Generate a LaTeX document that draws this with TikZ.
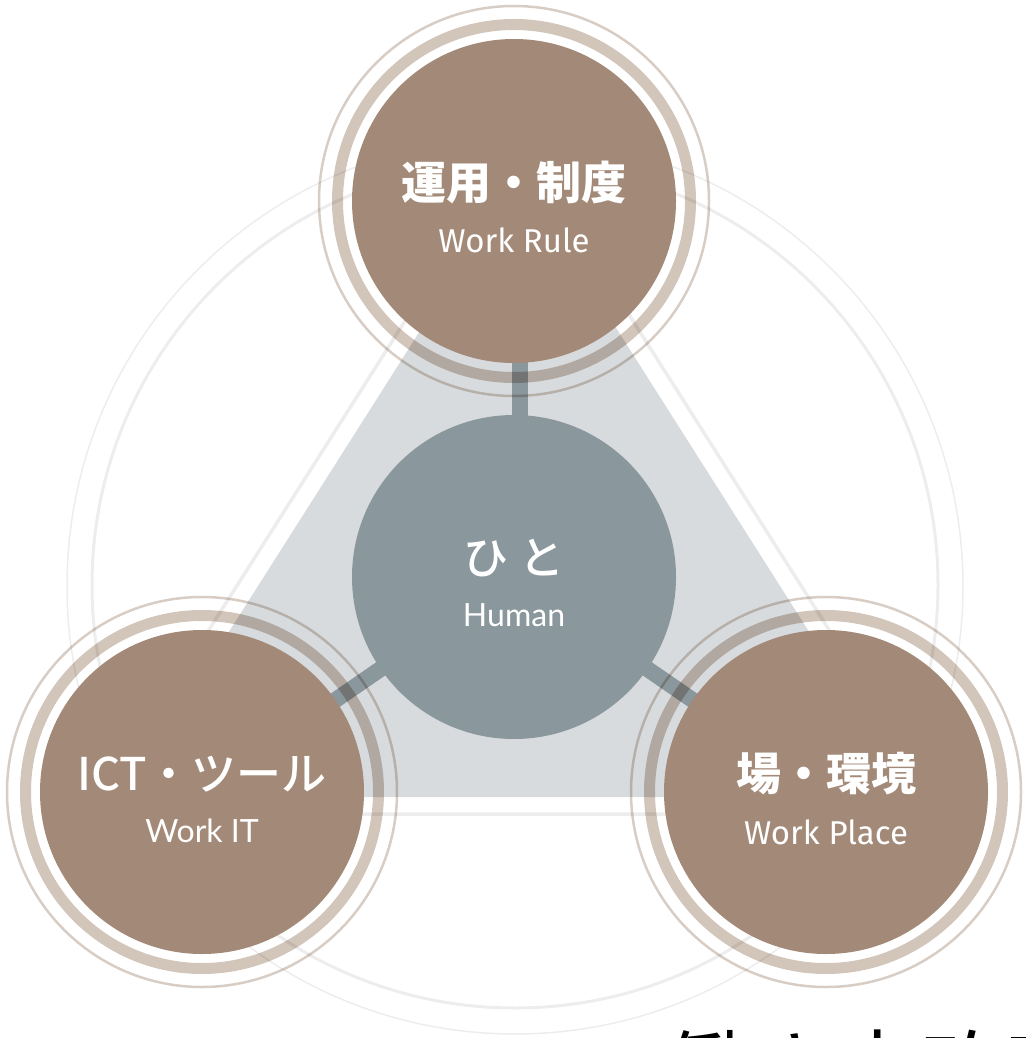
\documentclass[tikz,border=0pt]{standalone}
\usepackage{fontspec}
\newfontfamily\jp{Noto Sans CJK JP}
\IfFontExistsTF{Noto Sans CJK JP Medium}
  {\newfontfamily\jpm{Noto Sans CJK JP Medium}}
  {\newfontfamily\jpm{Noto Sans CJK JP}}
\newfontfamily\latf{Lato}
\newfontfamily\dinf{Fira Sans}
\definecolor{petalc}{HTML}{A38A78}
\definecolor{ringc}{HTML}{D2C5BA}
\definecolor{thinc}{HTML}{D8CDC4}
\definecolor{hubc}{HTML}{8A979D}
\definecolor{tric}{HTML}{D8DBDE}
\definecolor{bglc}{HTML}{EDEDED}
\pgfdeclarelayer{bglayer}
\pgfdeclarelayer{connlayer}
\pgfsetlayers{bglayer,connlayer,main}
\begin{document}
\begin{tikzpicture}[x=1pt,y=-1pt,
  petal/.style={circle,fill=petalc,minimum size=324pt,inner sep=0pt},
  hub/.style={circle,fill=hubc,minimum size=324pt,inner sep=0pt},
  connbar/.style={draw=hubc,line width=16pt,shorten <=-3pt,shorten >=-3pt},
  thickring/.style={draw=ringc,line width=11pt},
  thinring/.style={draw=thinc,line width=2.5pt},
  bgline/.style={draw=bglc},
  jpbold/.style={text=white,font=\jp\bfseries\fontsize{45}{54}\selectfont,inner sep=0pt},
  jpreg/.style={text=white,font=\jpm\fontsize{45}{54}\selectfont,inner sep=0pt},
  endin/.style={text=white,font=\dinf\fontsize{33}{38}\selectfont,inner sep=0pt},
  enlat/.style={text=white,font=\latf\fontsize{32}{37}\selectfont,inner sep=0pt}]
\useasboundingbox (0,0) rectangle (1025,1038);
\begin{pgfonlayer}{bglayer}
  \draw[bgline,line width=3pt] (515,585) circle[radius=423];
  \draw[bgline,line width=1.5pt] (515,586) circle[radius=448];
  \draw[bgline,line width=3.5pt,line join=miter] (519,141.5) -- (92,814) -- (946,814) -- cycle;
  \fill[tric] (519,175) -- (124,797) -- (914,797) -- cycle;
\end{pgfonlayer}
\node[hub] (human) at (514,577) {};
\node[petal] (rule) at (514,201) {};
\node[petal] (it) at (202,792) {};
\node[petal] (place) at (826,792) {};
\begin{pgfonlayer}{connlayer}
  \draw[connbar] ([xshift=6pt]human.north) -- ([xshift=6pt]rule.south);
  \draw[connbar] (human) -- (it);
  \draw[connbar] (human) -- (place);
\end{pgfonlayer}
\begin{scope}[blend mode=multiply]
  \foreach \n in {rule,it,place}{
    \draw[thickring] (\n.center) circle[radius=176.5];
    \draw[thinring] (\n.center) circle[radius=195];
  }
\end{scope}
\node[jpbold] (ruleJ) at ([yshift=18pt]rule.center) {運用・制度};
\node[endin] (ruleE) at ([yshift=-39pt]rule.center) {Work Rule};
\node[jpreg] (humanJ) at ([yshift=19pt]human.center) {ひ と};
\node[enlat] (humanE) at ([yshift=-38pt]human.center) {Human};
\node[jpreg] (itJ) at ([yshift=18pt]it.center) {ICT・ツール};
\node[enlat] (itE) at ([yshift=-39pt]it.center) {Work IT};
\node[jpbold] (placeJ) at ([yshift=18pt]place.center) {場・環境};
\node[endin] (placeE) at ([yshift=-40pt]place.center) {Work Place};
\begin{scope}
  \clip (0,0) rectangle (1025,1038);
  \node[anchor=base west,inner sep=0pt,font=\jp\fontsize{85}{100}\selectfont] (caption) at (665,1101) {働き方改革};
\end{scope}
\end{tikzpicture}
\end{document}
